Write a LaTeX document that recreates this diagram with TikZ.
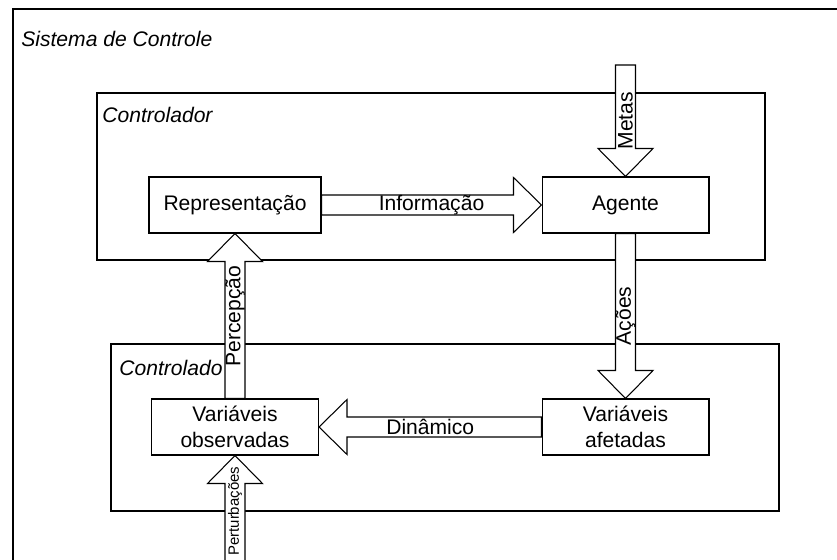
\documentclass[tikz,border=0pt]{standalone}
\usepackage{fontspec}
\setmainfont{Liberation Sans}
\usetikzlibrary{calc}

% block arrow between two points: [label style]{name}{from}{to}{label}
\newcommand{\blockarrow}[5][]{%
  \coordinate (#2-s) at (#3);
  \coordinate (#2-e) at (#4);
  \coordinate (#2-h) at ($(#2-e)!0.56cm!(#2-s)$);
  \draw[barrow] ($(#2-s)!0.2cm!90:(#2-e)$) -- ($(#2-h)!0.2cm!90:(#2-e)$)
    -- ($(#2-h)!0.55cm!90:(#2-e)$) -- (#2-e) -- ($(#2-h)!0.55cm!-90:(#2-e)$)
    -- ($(#2-h)!0.2cm!-90:(#2-e)$) -- ($(#2-s)!0.2cm!-90:(#2-e)$) -- cycle;
  \path (#2-s) -- node[arrlabel,#1] (#2) {#5} (#2-e);
}

\begin{document}
\begin{tikzpicture}[x=0.02cm,y=-0.02cm,
  font={\fontsize{12}{14.5}\selectfont},
  box/.style={draw,fill=white,line width=0.6pt,minimum width=3.34cm,
    minimum height=1.12cm,align=center,inner sep=0pt},
  group/.style={draw,line width=0.6pt},
  grouplabel/.style={font={\fontsize{12}{14.5}\selectfont\itshape},
    anchor=base west,inner sep=0pt},
  barrow/.style={draw,fill=white,line width=0.6pt,line join=miter},
  arrlabel/.style={inner sep=1pt},
  vlabel/.style={arrlabel,rotate=90}
]
  \useasboundingbox (0,0) rectangle (837,560);
  \clip (0,0) rectangle (837,560);

  % Sistema de Controle
  \draw[group] (13,9) rectangle (850,580);
  \node[grouplabel] (sistema) at (21,47) {Sistema de Controle};

  % Controlador
  \draw[group] (97,93) rectangle (765,260);
  \node[grouplabel] (controlador) at (102,123) {Controlador};
  \node[box,minimum width=3.44cm] (repr) at (235,205) {Representação};
  \node[box] (agente) at (625.5,205) {Agente};

  % Controlado
  \draw[group] (111,344) rectangle (779,511);
  \node[grouplabel] (controlado) at (119,375) {Controlado};
  \node[box] (observadas) at (235,427) {Variáveis\\observadas};
  \node[box] (afetadas) at (625.5,427) {Variáveis\\afetadas};

  % Block arrows
  \coordinate (metas-in) at (625.5,65);
  \coordinate (pert-in) at (235,567);
  \blockarrow{informacao}{repr.east}{agente.west}{Informação}
  \blockarrow[vlabel]{metas}{metas-in}{agente.north}{Metas}
  \blockarrow[vlabel]{acoes}{agente.south}{afetadas.north}{Ações}
  \blockarrow{dinamico}{afetadas.west}{observadas.east}{Dinâmico}
  \blockarrow[vlabel]{percepcao}{observadas.north}{repr.south}{Percepção}
  \blockarrow[vlabel,font={\fontsize{8.5}{10}\selectfont}]{perturb}{pert-in}{observadas.south}{Perturbações}
\end{tikzpicture}
\end{document}
